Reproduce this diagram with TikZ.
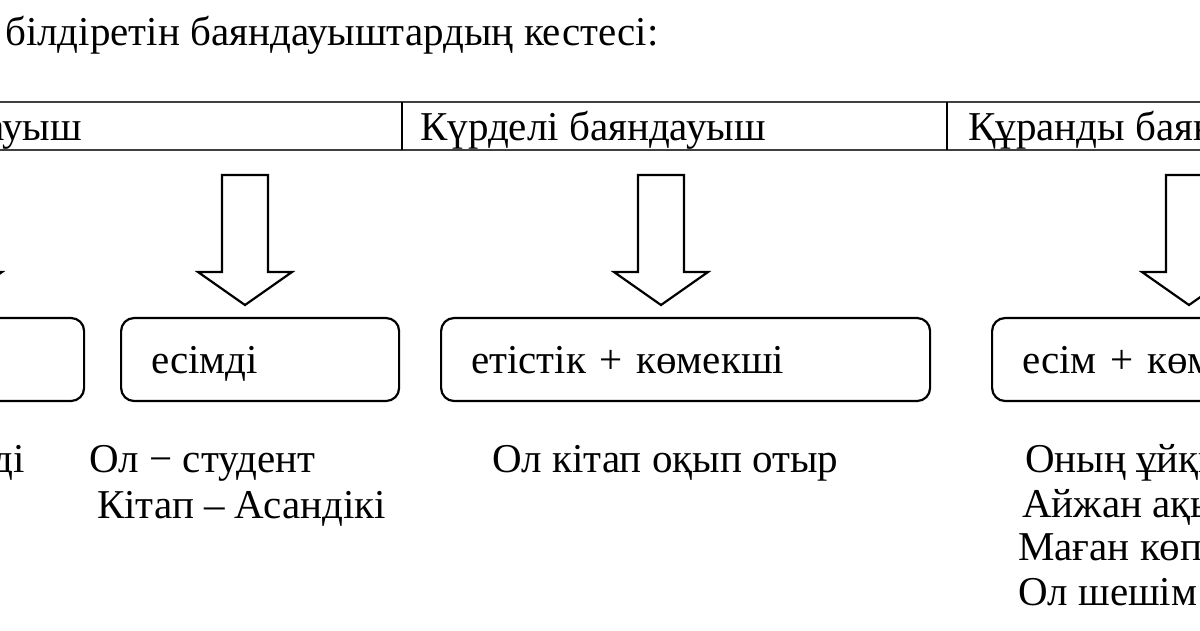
\documentclass[tikz,border=0pt]{standalone}
\usepackage{fontspec}
\setmainfont{Liberation Serif}
\usetikzlibrary{positioning}

\begin{document}
\begin{tikzpicture}[x=1pt,y=-1pt,
  txt/.style={anchor=base west,inner sep=0pt,font=\fontsize{41}{49}\selectfont},
  rule/.style={line width=1.8pt,black!75},
  box/.style={draw,line width=2.2pt,rounded corners=13pt,anchor=west,minimum height=83pt,
    text height=33pt,text depth=6pt,inner xsep=30pt,inner ysep=0pt,align=left,
    font=\fontsize{41}{49}\selectfont},
  downarrow/.pic={\draw[line width=2.2pt,line join=miter]
    (-23,-130) -- (23,-130) -- (23,-33) -- (47,-33) -- (0,0) -- (-47,-33) -- (-23,-33) -- cycle;}]
  \useasboundingbox (0,0) rectangle (1200,630);
  \clip (0,0) rectangle (1200,630);
  % nadpis
  \node[txt] (nadpis) at (5,45) {білдіретін баяндауыштардың кестесі:};
  % zahlavi tabulky
  \draw[rule] (-10,102) -- (1210,102) (-10,150) -- (1210,150);
  \draw[line width=1.4pt] (402,102) -- (402,150) (947,102) -- (947,150);
  \node[txt,anchor=base east] (dara) at (82,140) {баяндауыш};
  \node[txt] (kurdeli) at (420,140) {Күрделі баяндауыш};
  \node[txt] (kurandy) at (968,140) {Құранды баяндауыш};
  % sipky
  \pic at (-45,305) {downarrow};
  \pic at (245,305) {downarrow};
  \pic at (661,305) {downarrow};
  \pic at (1189,305) {downarrow};
  % ramecky
  \node[box,text width=218pt] (b1) at (-195,359.5) {};
  \node[box,text width=218pt] (esimdi) at (120,359.5) {есімді};
  \node[box,text width=429pt] (etistik) at (440,359.5) {етістік + көмекші};
  \node[box,text width=340pt] (esim) at (991,359.5) {есім + көмекші};
  % priklady
  \node[txt,anchor=base east] (p1) at (25,472) {ді};
  \node[txt] (p2) at (89,472) {Ол − студент};
  \node[txt] (p3) at (97,518) {Кітап – Асандікі};
  \node[txt] (p4) at (492,472) {Ол кітап оқып отыр};
  \node[txt] (p5) at (1025,472) {Оның ұйқы};
  \node[txt] (p6) at (1022,517) {Айжан ақы};
  \node[txt] (p7) at (1018,560) {Маған көп};
  \node[txt] (p8) at (1018,605) {Ол шешім};
\end{tikzpicture}
\end{document}
